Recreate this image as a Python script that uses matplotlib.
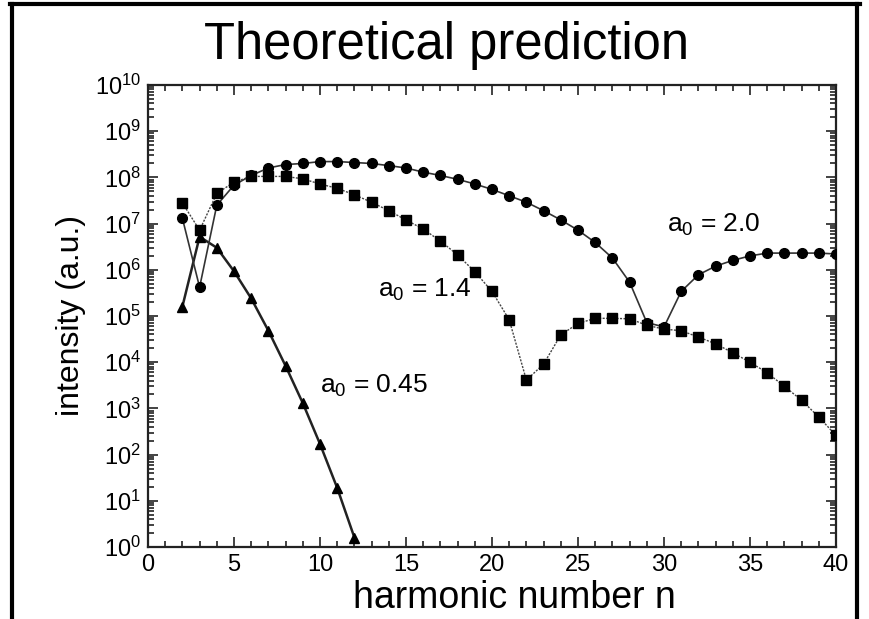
import matplotlib
matplotlib.use("Agg")
import matplotlib.pyplot as plt
from matplotlib.ticker import LogLocator, MultipleLocator, FixedLocator, NullFormatter
from matplotlib.lines import Line2D

plt.rcParams['font.family'] = ['Liberation Sans', 'DejaVu Sans']
plt.rcParams['mathtext.fontset'] = 'custom'
plt.rcParams['mathtext.rm'] = 'Liberation Sans'
plt.rcParams['mathtext.it'] = 'Liberation Sans'

# ---- data ----
n_045 = list(range(2, 13))
I_045 = [1.6e5, 5.2e6, 3.0e6, 9.3e5, 2.4e5, 4.8e4, 8.3e3, 1.3e3, 1.7e2, 1.9e1, 1.6]

n_14 = list(range(2, 41))
I_14 = [2.8e7, 7.2e6, 4.5e7, 7.9e7, 1.05e8, 1.05e8, 1.05e8, 9.3e7, 7.2e7, 5.8e7,
        4.2e7, 2.9e7, 1.9e7, 1.2e7, 7.6e6, 4.2e6, 2.1e6, 9.1e5, 3.4e5, 8.3e4,
        4.1e3, 9.1e3, 3.9e4, 6.9e4, 8.9e4, 8.9e4, 8.7e4, 6.3e4, 5.2e4, 4.8e4,
        3.5e4, 2.5e4, 1.6e4, 1.0e4, 5.9e3, 3.0e3, 1.5e3, 6.5e2, 2.6e2]

n_20 = list(range(2, 41))
I_20 = [1.3e7, 4.2e5, 2.5e7, 6.8e7, 1.1e8, 1.6e8, 1.9e8, 2.0e8, 2.2e8, 2.2e8,
        2.1e8, 2.0e8, 1.8e8, 1.6e8, 1.3e8, 1.1e8, 9.1e7, 7.2e7, 5.5e7, 4.0e7,
        2.9e7, 1.9e7, 1.2e7, 7.2e6, 3.9e6, 1.8e6, 5.4e5, 7.2e4, 5.8e4, 3.4e5,
        7.8e5, 1.2e6, 1.6e6, 2.0e6, 2.3e6, 2.3e6, 2.3e6, 2.3e6, 2.2e6]

x_ticks = [0, 5, 10, 15, 20, 25, 30, 35, 40]
y_exps = list(range(0, 11))

title = "Theoretical prediction"
xlabel = "harmonic number n"
ylabel = "intensity (a.u.)"

fig = plt.figure(figsize=(8.69, 6.19), dpi=100)
ax = fig.add_axes([148/869, 1-547/619, (836-148)/869, (547-85)/619])

ax.plot(n_045, I_045, color='#222222', lw=1.8, marker='^', ms=7.5, mfc='black', mec='black', zorder=3)
ax.plot(n_20, I_20, color='#333333', lw=1.2, marker='o', ms=7, mfc='black', mec='black', zorder=3)
ax.plot(n_14, I_14, color='#444444', lw=1.0, ls=(0, (1.5, 1)), marker='s', ms=6.5, mfc='black', mec='black', zorder=3)

ax.set_yscale('log')
ax.set_xlim(0, 40)
ax.set_ylim(1, 1e10)

ax.xaxis.set_major_locator(FixedLocator(x_ticks))
ax.xaxis.set_minor_locator(MultipleLocator(1))
ax.yaxis.set_major_locator(FixedLocator([10.0**e for e in y_exps]))
ax.yaxis.set_minor_locator(LogLocator(base=10, subs=[2, 3, 4, 5, 6, 7, 8, 9], numticks=20))
ax.yaxis.set_minor_formatter(NullFormatter())
ax.set_xticklabels([str(t) for t in x_ticks])
ax.set_yticklabels([r'$\mathregular{10^{%d}}$' % e for e in y_exps])

ax.tick_params(which='both', direction='in', top=True, right=True, width=1.2, color='#222222')
ax.tick_params(which='major', length=7, labelsize=17, pad=5)
ax.tick_params(which='minor', length=4)
for s in ax.spines.values():
    s.set_linewidth(1.6)
    s.set_color('#222222')

ax.set_ylabel(ylabel, fontsize=23, labelpad=6)
fig.text(514/869, 1-598/619, xlabel, fontsize=27, ha='center', va='center')

ax.text(30.2, 10**6.82, r'a$_\mathregular{0}$ = 2.0', fontsize=19, va='baseline', ha='left')
ax.text(13.4, 10**5.42, r'a$_\mathregular{0}$ = 1.4', fontsize=19, va='baseline', ha='left')
ax.text(10.0, 10**3.33, r'a$_\mathregular{0}$ = 0.45', fontsize=19, va='baseline', ha='left')

fig.text(447/869, 1-45/619, title, fontsize=36.5, ha='center', va='center')

# outer frame
fw = 3
fig.add_artist(Line2D([10/869, 860/869], [1-4/619, 1-4/619], color='black', lw=fw, transform=fig.transFigure))
fig.add_artist(Line2D([12/869, 12/869], [0, 1-4/619], color='black', lw=fw, transform=fig.transFigure))
fig.add_artist(Line2D([857/869, 857/869], [0, 1-4/619], color='black', lw=fw, transform=fig.transFigure))

fig.savefig('out.png', dpi=100)
